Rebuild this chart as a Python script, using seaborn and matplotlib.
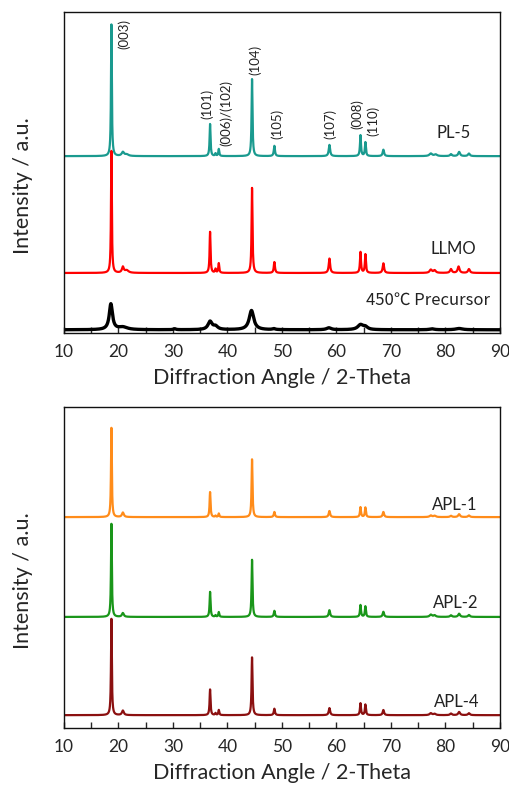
import numpy as np
import pandas as pd
import matplotlib
matplotlib.use("Agg")
import matplotlib.pyplot as plt
from matplotlib.ticker import MultipleLocator
import seaborn as sns

sns.set_style("white")
plt.rcParams['font.family'] = ['Lato', 'DejaVu Sans']

# ---------------- data (peak lists) ----------------
# each sample: baseline offset, peak positions (2-theta), peak heights, peak widths (FWHM)
pl5_base = 55.1
pl5_pos = [18.7, 20.8, 21.5, 36.8, 37.8, 38.4, 44.5, 48.6, 58.7, 64.4, 65.3, 68.6, 77.3, 78.2, 81.0, 82.5, 84.3]
pl5_amp = [41.0, 1.2, 0.5, 10.0, 0.8, 2.2, 24.0, 3.2, 3.5, 6.5, 4.3, 2.0, 0.8, 0.5, 0.6, 1.3, 0.8]
pl5_wid = [0.18, 0.5, 0.8, 0.2, 0.2, 0.2, 0.2, 0.25, 0.3, 0.22, 0.22, 0.3, 0.6, 0.6, 0.4, 0.4, 0.4]

llmo_base = 18.7
llmo_pos = [18.7, 20.8, 21.5, 36.8, 37.8, 38.4, 44.5, 48.6, 58.7, 64.4, 65.3, 68.6, 77.3, 78.0, 81.0, 82.4, 84.3]
llmo_amp = [38.0, 1.8, 0.8, 12.8, 1.2, 3.0, 26.5, 3.4, 4.5, 6.5, 5.8, 3.0, 1.0, 0.8, 1.2, 2.0, 1.2]
llmo_wid = [0.18, 0.4, 0.8, 0.2, 0.2, 0.2, 0.2, 0.25, 0.3, 0.22, 0.22, 0.3, 0.5, 0.5, 0.4, 0.4, 0.4]

pre_base = 1.0
pre_pos = [18.6, 20.8, 30.3, 36.8, 37.8, 44.4, 48.5, 58.6, 64.4, 65.3, 77.5, 82.5]
pre_amp = [8.0, 0.8, 0.3, 2.5, 1.0, 6.0, 0.3, 0.6, 1.5, 0.8, 0.3, 0.4]
pre_wid = [0.7, 2.0, 0.5, 0.9, 1.0, 1.0, 0.6, 1.0, 1.2, 1.0, 1.0, 1.5]

apl1_base = 65.7
apl1_pos = [18.7, 20.8, 36.8, 37.8, 38.4, 44.5, 48.6, 58.7, 64.4, 65.3, 68.6, 77.3, 78.0, 81.0, 82.5, 84.3]
apl1_amp = [27.8, 1.4, 7.8, 0.4, 1.1, 18.0, 1.6, 1.9, 3.1, 3.0, 1.6, 0.5, 0.4, 0.4, 0.9, 0.5]
apl1_wid = [0.18, 0.4, 0.2, 0.2, 0.2, 0.2, 0.25, 0.3, 0.22, 0.22, 0.3, 0.5, 0.5, 0.4, 0.4, 0.4]

apl2_base = 34.6
apl2_pos = [18.7, 20.8, 36.8, 37.8, 38.4, 44.5, 48.6, 58.7, 64.4, 65.3, 68.6, 77.3, 78.0, 81.0, 82.5, 84.3]
apl2_amp = [29.0, 1.2, 7.8, 0.5, 1.5, 17.8, 1.9, 2.1, 3.7, 3.3, 1.6, 0.7, 0.5, 0.5, 1.0, 0.6]
apl2_wid = [0.18, 0.4, 0.2, 0.2, 0.2, 0.2, 0.25, 0.3, 0.22, 0.22, 0.3, 0.5, 0.5, 0.4, 0.4, 0.4]

apl4_base = 4.0
apl4_pos = [18.7, 20.8, 36.8, 37.8, 38.4, 44.5, 48.6, 58.7, 64.4, 65.3, 68.6, 77.3, 78.0, 81.0, 82.5, 84.3]
apl4_amp = [30.0, 1.4, 8.0, 0.6, 1.6, 18.0, 2.0, 2.2, 3.7, 3.3, 1.6, 0.6, 0.4, 0.5, 1.0, 0.6]
apl4_wid = [0.18, 0.4, 0.2, 0.2, 0.2, 0.2, 0.25, 0.3, 0.22, 0.22, 0.3, 0.5, 0.5, 0.4, 0.4, 0.4]

hkl_labels = ["(003)", "(101)", "(006)/(102)", "(104)", "(105)", "(107)", "(008)", "(110)"]
hkl_x = [21.0, 36.2, 39.8, 45.0, 49.1, 58.8, 63.8, 66.7]
hkl_y = [88.5, 66.7, 58.3, 80.4, 60.4, 60.4, 63.5, 61.3]

x_ticks = [10, 20, 30, 40, 50, 60, 70, 80, 90]
twotheta = np.linspace(10, 90, 4001)


def pattern(base, pos, amp, wid):
    y = np.full_like(twotheta, base)
    for p, a, w in zip(pos, amp, wid):
        g = (w / 2) ** 2
        y = y + a * g / ((twotheta - p) ** 2 + g)
    return y


top_series = [
    ("PL-5", pattern(pl5_base, pl5_pos, pl5_amp, pl5_wid), "#1a9a8f", 1.6),
    ("LLMO", pattern(llmo_base, llmo_pos, llmo_amp, llmo_wid), "#ff0000", 1.6),
    ("450℃ Precursor", pattern(pre_base, pre_pos, pre_amp, pre_wid), "#000000", 2.4),
]
bot_series = [
    ("APL-1", pattern(apl1_base, apl1_pos, apl1_amp, apl1_wid), "#ff8c1a", 1.6),
    ("APL-2", pattern(apl2_base, apl2_pos, apl2_amp, apl2_wid), "#1a961a", 1.6),
    ("APL-4", pattern(apl4_base, apl4_pos, apl4_amp, apl4_wid), "#8b1010", 1.6),
]

fig = plt.figure(figsize=(5.10, 7.89), dpi=100)
ax1 = fig.add_axes([64 / 510, 1 - 333 / 789, 436 / 510, 321 / 789])
ax2 = fig.add_axes([64 / 510, 1 - 728 / 789, 436 / 510, 321 / 789])

# draw order: bottom-most first so upper traces overlay
for ax, series in [(ax1, top_series), (ax2, bot_series)]:
    for name, y, col, lw in reversed(series):
        df = pd.DataFrame({"x": twotheta, "y": y})
        sns.lineplot(data=df, x="x", y="y", ax=ax, color=col, lw=lw, estimator=None, sort=False)

label_pos_top = [(81.4, 62.3), (81.4, 26.2), (76.8, 10.3)]
label_pos_bot = [(81.6, 69.5), (81.8, 38.9), (82.0, 8.1)]
for ax, series, lp in [(ax1, top_series, label_pos_top), (ax2, bot_series, label_pos_bot)]:
    for (name, y, col, lw), (tx, ty) in zip(series, lp):
        fam = ['Noto Sans CJK SC', 'Lato', 'DejaVu Sans'] if '℃' in name else ['Lato', 'DejaVu Sans']
        ax.text(tx, ty, name, ha="center", va="center", fontsize=12, color="#222222", family=fam)

for lab, hx, hy in zip(hkl_labels, hkl_x, hkl_y):
    ax1.text(hx, hy, lab, rotation=90, ha="center", va="bottom", fontsize=9.5, color="#222222")

for ax in (ax1, ax2):
    ax.set_xlim(10, 90)
    ax.set_ylim(0, 100)
    ax.set_yticks([])
    ax.xaxis.set_major_locator(MultipleLocator(10))
    ax.xaxis.set_minor_locator(MultipleLocator(5))
    ax.set_xticks(x_ticks)
    ax.tick_params(axis="x", which="both", direction="in", length=4, width=1, bottom=True, top=False,
                   labelsize=12.5, pad=8)
    for s in ax.spines.values():
        s.set_color("#111111")
        s.set_linewidth(1.0)
    ax.set_xlabel("Diffraction Angle / 2-Theta", fontsize=15.5, labelpad=6)
    ax.set_ylabel("Intensity / a.u.", fontsize=15.5)
    ax.yaxis.set_label_coords(-0.07, 0.46)

fig.savefig("out.png", dpi=100)
